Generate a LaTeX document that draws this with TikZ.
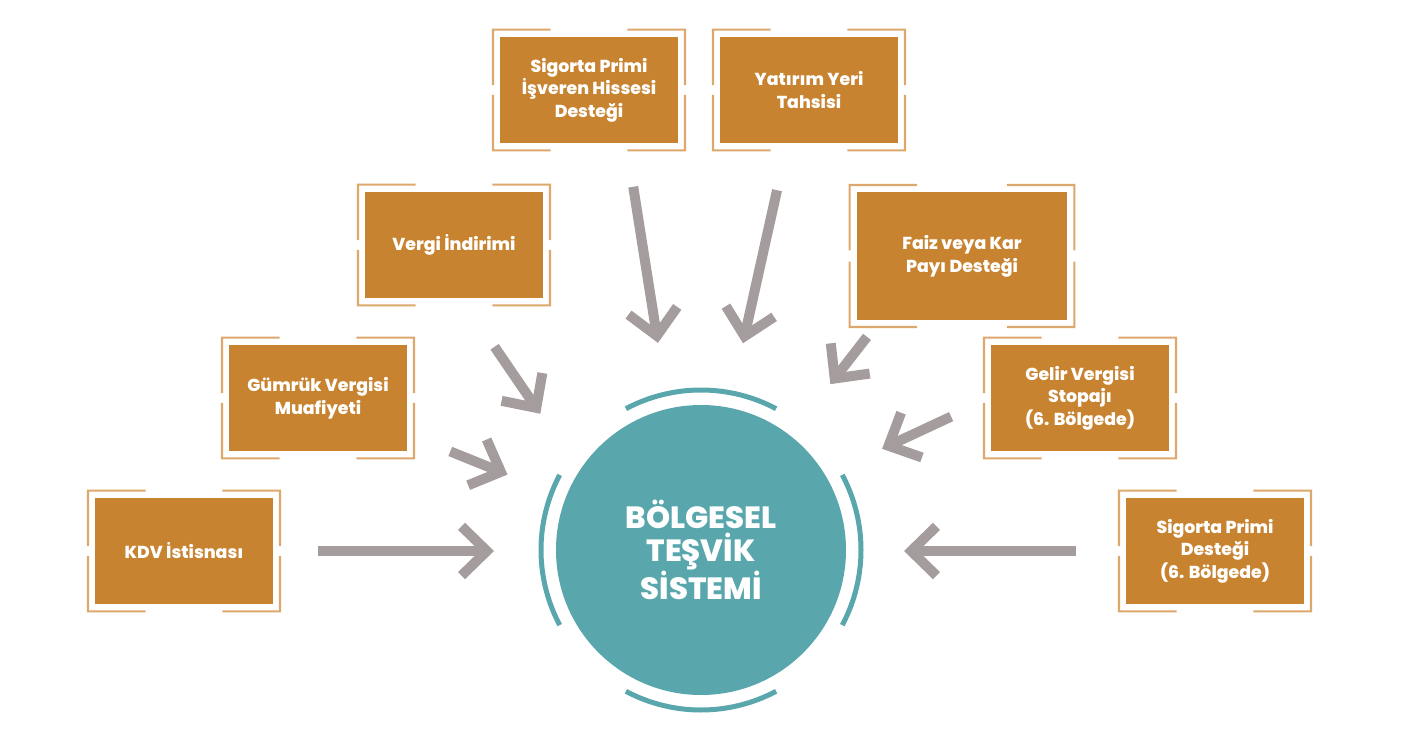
\documentclass[tikz,border=0pt]{standalone}
\usepackage{fontspec}
\setmainfont{Poppins}[BoldFont={Poppins ExtraBold}]
\usetikzlibrary{positioning, arrows.meta, calc}

\definecolor{boxorange}{HTML}{C7832F}
\definecolor{frametan}{HTML}{DDA86C}
\definecolor{arrowgray}{HTML}{A59D9D}
\definecolor{hubteal}{HTML}{59A7AC}

\begin{document}
\begin{tikzpicture}[
    x=0.75pt, y=-0.75pt,
    boxstyle/.style={
        fill=boxorange, text=white, align=center,
        font=\bfseries\fontsize{13}{17}\selectfont,
        minimum width=133.5pt, minimum height=80pt,
        inner sep=2pt, outer sep=0pt
    },
    framestyle/.style={draw=frametan, line width=1.6pt, line join=miter},
    hubstyle/.style={
        circle, fill=hubteal, text=white, align=center,
        font=\bfseries\fontsize{23}{24.5}\selectfont,
        minimum size=217.5pt, inner sep=0pt, outer sep=0pt
    },
    ringstyle/.style={draw=hubteal, line width=3.75pt},
    arrowstyle/.style={draw=arrowgray, line width=7.5pt, -{Straight Barb[length=19pt, width=37pt]}}
]
\useasboundingbox (0,0) rectangle (1418,749);

% Center circle
\node[hubstyle] (hub) at (701,550) {BÖLGESEL\\TEŞVİK\\SİSTEMİ};
\foreach \a in {0,90,180,270}
    \draw[ringstyle] (hub.center) ++(\a-28:120pt) arc[start angle=\a-28, end angle=\a+28, radius=120pt];

% Boxes
\node[boxstyle] (sgk) at (589,90) {Sigorta Primi\\İşveren Hissesi\\Desteği};
\node[boxstyle] (yatirim) at (809,90) {Yatırım Yeri\\Tahsisi};
\node[boxstyle] (vergi) at (454,245) {Vergi İndirimi};
\node[boxstyle, minimum width=158pt, minimum height=96pt] (faiz) at (962,256) {Faiz veya Kar\\Payı Desteği};
\node[boxstyle] (gumruk) at (318,398) {Gümrük Vergisi\\Muafiyeti};
\node[boxstyle] (gelir) at (1080,398) {Gelir Vergisi\\Stopajı\\(6. Bölgede)};
\node[boxstyle] (kdv) at (184,551) {KDV İstisnası};
\node[boxstyle] (sgkalti) at (1215,551) {Sigorta Primi\\Desteği\\(6. Bölgede)};

% Frames
\foreach \n in {sgk,yatirim,vergi,faiz,gumruk,gelir,kdv,sgkalti}{
    \coordinate (A) at ([shift={(-5.25pt,5.25pt)}]\n.north west);
    \coordinate (B) at ([shift={(5.25pt,5.25pt)}]\n.north east);
    \coordinate (C) at ([shift={(5.25pt,-5.25pt)}]\n.south east);
    \coordinate (D) at ([shift={(-5.25pt,-5.25pt)}]\n.south west);
    \draw[framestyle] ($(A)!0.3!(B)$) -- (A) -- ($(A)!0.46!(D)$)
                      ($(B)!0.3!(A)$) -- (B) -- ($(B)!0.46!(C)$)
                      ($(C)!0.3!(D)$) -- (C) -- ($(C)!0.46!(B)$)
                      ($(D)!0.3!(C)$) -- (D) -- ($(D)!0.46!(A)$);
}

% Arrows
\draw[arrowstyle, shorten <=34pt, shorten >=46.5pt] (kdv.east) -- (kdv.east -| hub.west);
\draw[arrowstyle, shorten <=35pt, shorten >=47pt] (gumruk.-22) -- (hub.159);
\draw[arrowstyle, shorten <=44pt, shorten >=52pt] (vergi.-82) -- (hub.147);
\draw[arrowstyle, shorten <=33pt, shorten >=50pt] (sgk.-55) -- (hub.103);
\draw[arrowstyle, shorten <=36pt, shorten >=49.5pt] (yatirim.-112) -- (hub.79);
\draw[arrowstyle, shorten <=16pt, shorten >=49pt] (faiz.-142) -- (hub.52);
\draw[arrowstyle, shorten <=33pt, shorten >=47pt] (gelir.west) -- (hub.31);
\draw[arrowstyle, shorten <=37.5pt, shorten >=43.5pt] (sgkalti.west) -- (sgkalti.west -| hub.east);

\end{tikzpicture}
\end{document}
